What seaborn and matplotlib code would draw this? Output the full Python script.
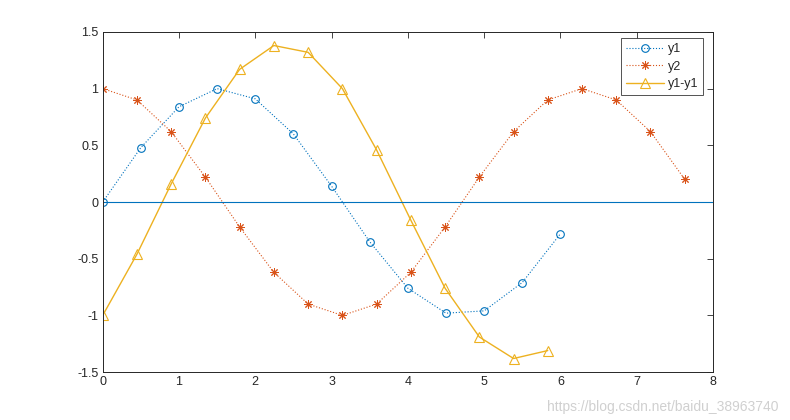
import matplotlib.pyplot as plt
import seaborn as sns
import numpy as np

# data
x1 = [0, 0.5, 1.0, 1.5, 2.0, 2.5, 3.0, 3.5, 4.0, 4.5, 5.0, 5.5, 6.0]
y1 = [0, 0.48, 0.84, 1.0, 0.91, 0.6, 0.14, -0.35, -0.76, -0.98, -0.96, -0.71, -0.28]

x2 = [0, 0.449, 0.898, 1.346, 1.795, 2.244, 2.693, 3.142, 3.590, 4.039,
      4.488, 4.937, 5.386, 5.834, 6.283, 6.732, 7.181, 7.630]
y2 = [1.0, 0.9, 0.62, 0.22, -0.22, -0.62, -0.9, -1.0, -0.9, -0.62,
      -0.22, 0.22, 0.62, 0.9, 1.0, 0.9, 0.62, 0.2]

x3 = [0, 0.449, 0.898, 1.346, 1.795, 2.244, 2.693, 3.142, 3.590, 4.039,
      4.488, 4.937, 5.386, 5.834]
y3 = [-1.0, -0.46, 0.16, 0.74, 1.17, 1.38, 1.32, 1.0, 0.46, -0.16,
      -0.76, -1.19, -1.38, -1.31]

zero_x = [0, 8]
zero_y = [0, 0]

labels = ["y1", "y2", "y1-y1"]
colors = ["#0072BD", "#D95319", "#EDB120"]

sns.set_style("white")
plt.rcParams['font.family'] = ['Liberation Sans', 'DejaVu Sans']

fig = plt.figure(figsize=(7.9, 4.2), dpi=100)
ax = fig.add_axes([0.130, 0.114, 0.7725, 0.81])

sns.lineplot(x=x1, y=y1, ax=ax, sort=False, color=colors[0], linestyle=":", lw=0.8,
             marker="o", mfc="none", mec=colors[0], ms=5.5, mew=0.8, label=labels[0])
sns.lineplot(x=x2, y=y2, ax=ax, sort=False, color=colors[1], linestyle=":", lw=0.8,
             marker=(8, 2, 0), mfc=colors[1], mec=colors[1], ms=6, mew=0.7, label=labels[1])
sns.lineplot(x=x3, y=y3, ax=ax, sort=False, color=colors[2], linestyle="-", lw=1.0,
             marker="^", mfc="none", mec=colors[2], ms=6.5, mew=0.8, label=labels[2])
sns.lineplot(x=zero_x, y=zero_y, ax=ax, sort=False, color=colors[0], lw=0.8)

ax.set_xlim(0, 8)
ax.set_ylim(-1.5, 1.5)
ax.set_xticks(range(0, 9))
ax.set_yticks([-1.5, -1, -0.5, 0, 0.5, 1, 1.5])
ax.set_yticklabels(["-1.5", "-1", "-0.5", "0", "0.5", "1", "1.5"])
ax.tick_params(direction="in", length=4, width=0.6, top=True, right=True,
               labelsize=9, colors="#262626", pad=3)
for s in ax.spines.values():
    s.set_color("#262626")
    s.set_linewidth(0.7)

leg = ax.legend(loc="upper right", bbox_to_anchor=(0.984, 0.982), fontsize=9,
                frameon=True, fancybox=False, edgecolor="#262626",
                handlelength=3.0, handletextpad=0.3, borderpad=0.4,
                labelspacing=0.45, borderaxespad=0)
leg.get_frame().set_linewidth(0.7)

fig.text(0.985, 0.015, "https://blog.csdn.net/baidu_38963740", ha="right", va="bottom",
         fontsize=10, color="#d0d0d0")

fig.savefig("out.png", dpi=100)
